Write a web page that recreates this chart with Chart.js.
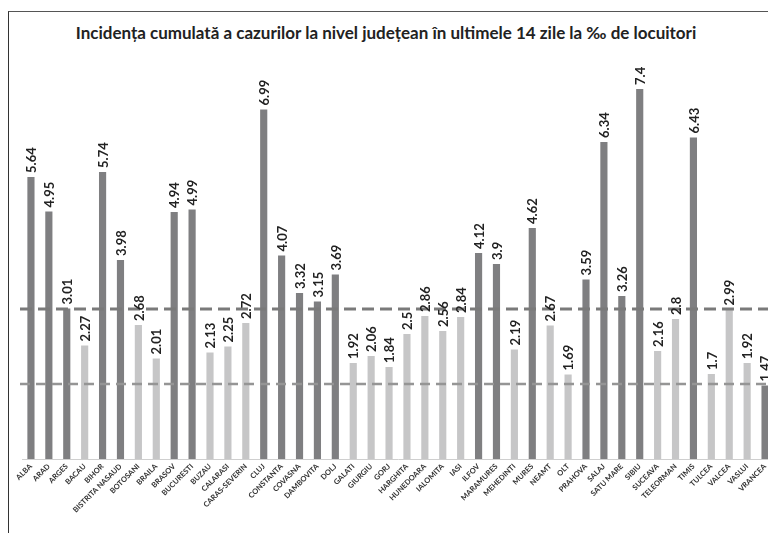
<!DOCTYPE html>
<html>
<head>
<meta charset="utf-8">
<script src="https://cdn.jsdelivr.net/npm/chart.js@4"></script>
<style>
  body { margin: 0; background: #fff; }
  #wrap { position: relative; width: 768px; height: 533px; overflow: hidden; }
  #frame { position: absolute; left: 8px; top: 11px; width: 800px; height: 600px;
           border-left: 1.5px solid #333; border-top: 1.5px solid #555; }
  #title { position: absolute; left: 0; width: 772px; top: 22px; text-align: center;
           font: bold 17px Lato, sans-serif; color: #222; }
  canvas { position: absolute; left: 0; top: 0; }
</style>
</head>
<body>
<div id="wrap">
  <div id="frame"></div>
  <div id="title">Incidența cumulată a cazurilor la nivel județean în ultimele 14 zile la ‰ de locuitori</div>
  <canvas id="c" width="790" height="533"></canvas>
</div>
<script>
const counties = ['ALBA', 'ARAD', 'ARGES', 'BACAU', 'BIHOR', 'BISTRITA NASAUD', 'BOTOSANI', 'BRAILA',
  'BRASOV', 'BUCURESTI', 'BUZAU', 'CALARASI', 'CARAS-SEVERIN', 'CLUJ', 'CONSTANTA', 'COVASNA',
  'DAMBOVITA', 'DOLJ', 'GALATI', 'GIURGIU', 'GORJ', 'HARGHITA', 'HUNEDOARA', 'IALOMITA', 'IASI',
  'ILFOV', 'MARAMURES', 'MEHEDINTI', 'MURES', 'NEAMT', 'OLT', 'PRAHOVA', 'SALAJ', 'SATU MARE',
  'SIBIU', 'SUCEAVA', 'TELEORMAN', 'TIMIS', 'TULCEA', 'VALCEA', 'VASLUI', 'VRANCEA'];
const incidence = [5.64, 4.95, 3.01, 2.27, 5.74, 3.98, 2.68, 2.01, 4.94, 4.99, 2.13, 2.25, 2.72,
  6.99, 4.07, 3.32, 3.15, 3.69, 1.92, 2.06, 1.84, 2.5, 2.86, 2.56, 2.84, 4.12, 3.9, 2.19, 4.62,
  2.67, 1.69, 3.59, 6.34, 3.26, 7.4, 2.16, 2.8, 6.43, 1.7, 2.99, 1.92, 1.47];
// dark = above threshold group in the picture (VRANCEA is drawn dark there too)
const darkBars = ['ALBA', 'ARAD', 'ARGES', 'BIHOR', 'BISTRITA NASAUD', 'BRASOV', 'BUCURESTI', 'CLUJ',
  'CONSTANTA', 'COVASNA', 'DAMBOVITA', 'DOLJ', 'ILFOV', 'MARAMURES', 'MURES', 'PRAHOVA', 'SALAJ',
  'SATU MARE', 'SIBIU', 'TIMIS', 'VRANCEA'];
const thresholds = [3, 1.5];

const DARK = '#7f7f81';
const LIGHT = '#c6c6c7';

const refLines = {
  id: 'refLines',
  afterDatasetsDraw(chart) {
    const { ctx, chartArea, scales } = chart;
    const styles = [
      { color: '#7a7a7a', width: 3, dash: [12, 6] },
      { color: '#959595', width: 2.5, dash: [10, 6] }
    ];
    thresholds.forEach((t, i) => {
      const y = scales.y.getPixelForValue(t);
      ctx.save();
      ctx.strokeStyle = styles[i].color;
      ctx.lineWidth = styles[i].width;
      ctx.setLineDash(styles[i].dash);
      ctx.beginPath();
      ctx.moveTo(chartArea.left - 2, y);
      ctx.lineTo(chartArea.right + 20, y);
      ctx.stroke();
      ctx.restore();
    });
  }
};

const valueLabels = {
  id: 'valueLabels',
  afterDraw(chart) {
    const { ctx } = chart;
    const meta = chart.getDatasetMeta(0);
    ctx.save();
    ctx.font = 'bold 13px Lato, sans-serif';
    ctx.fillStyle = '#222';
    ctx.textAlign = 'left';
    ctx.textBaseline = 'middle';
    meta.data.forEach((bar, i) => {
      ctx.save();
      ctx.translate(bar.x + 1, bar.y - 4);
      ctx.rotate(-Math.PI / 2);
      ctx.fillText(String(incidence[i]), 0, 0);
      ctx.restore();
    });
    ctx.restore();
  }
};

new Chart(document.getElementById('c'), {
  type: 'bar',
  data: {
    labels: counties,
    datasets: [{
      data: incidence,
      backgroundColor: counties.map(c => darkBars.includes(c) ? DARK : LIGHT),
      barPercentage: 0.4,
      categoryPercentage: 1
    }]
  },
  options: {
    responsive: false,
    animation: false,
    devicePixelRatio: 1,
    layout: { padding: { left: 22, right: 16, top: 59, bottom: 0 } },
    plugins: { legend: { display: false }, tooltip: { enabled: false } },
    scales: {
      x: {
        grid: { display: false, drawTicks: false },
        border: { display: true, color: '#cfcfcf', width: 1 },
        ticks: {
          minRotation: 45, maxRotation: 45, autoSkip: false, padding: 3,
          color: '#333', font: { family: 'Lato', size: 7.5, weight: 'bold' }
        },
        afterFit(axis) { axis.height = 74; }
      },
      y: { display: false, min: 0, max: 8 }
    }
  },
  plugins: [refLines, valueLabels]
});
</script>
</body>
</html>
